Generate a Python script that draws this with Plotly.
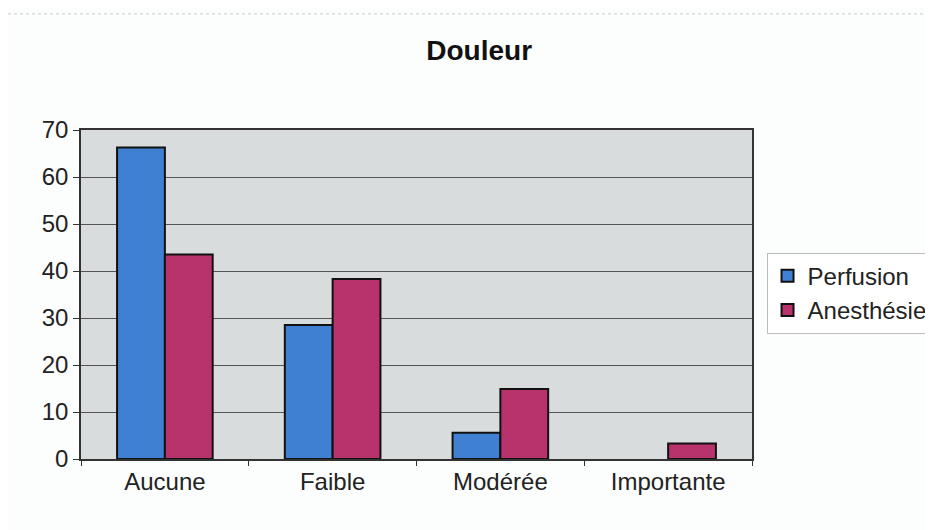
import plotly.graph_objects as go

categories = ["Aucune", "Faible", "Modérée", "Importante"]
perfusion = [66.3, 28.5, 5.6, 0]
anesthesie = [43.5, 38.3, 14.9, 3.3]
y_ticks = [0, 10, 20, 30, 40, 50, 60, 70]

fig = go.Figure()
fig.add_trace(go.Bar(name="Perfusion", x=categories, y=perfusion,
                     marker=dict(color="#3f80d2",
                                 line=dict(color="#111", width=[2 if v > 0 else 0 for v in perfusion]))))
fig.add_trace(go.Bar(name="Anesthésie", x=categories, y=anesthesie,
                     marker=dict(color="#b8326c",
                                 line=dict(color="#111", width=[2 if v > 0 else 0 for v in anesthesie]))))

font = "Liberation Sans, Arial, sans-serif"
fig.update_layout(
    width=933, height=530,
    margin=dict(l=73, r=189, t=122, b=79),
    paper_bgcolor="#fcfdfd",
    plot_bgcolor="#d9dcdc",
    barmode="group", bargap=0.43, bargroupgap=0,
    title=dict(text="<b>Douleur</b>", x=0.505, xanchor="center", y=0.921, yanchor="middle",
               font=dict(family=font, size=28, color="#111")),
    font=dict(family=font, size=24, color="#222"),
    legend=dict(xref="container", yref="container",
                x=0.813, xanchor="left", y=0.462, yanchor="middle",
                bordercolor="#bbbbbb", borderwidth=1, bgcolor="#ffffff",
                font=dict(family=font, size=24, color="#222"),
                itemwidth=30, tracegroupgap=2),
    showlegend=True,
)
fig.update_xaxes(showline=True, linecolor="#333", linewidth=1.5, mirror=True,
                 ticks="outside", tickson="boundaries", ticklen=5, tickcolor="#333",
                 tickfont=dict(family=font, size=24, color="#222"))
fig.update_yaxes(range=[0, 70], tickvals=y_ticks, showline=True, linecolor="#333", linewidth=1.5,
                 mirror=True, ticks="outside", ticklen=6, tickcolor="#333",
                 showgrid=True, gridcolor="#555", gridwidth=1, zeroline=False,
                 tickfont=dict(family=font, size=24, color="#222"))
fig.add_shape(type="rect", xref="paper", yref="paper",
              x0=-0.113, x1=1.27, y0=-0.3, y1=1.353,
              line=dict(color="#c8c8c8", width=1, dash="dot"), layer="below")
fig.write_html("out.html")
